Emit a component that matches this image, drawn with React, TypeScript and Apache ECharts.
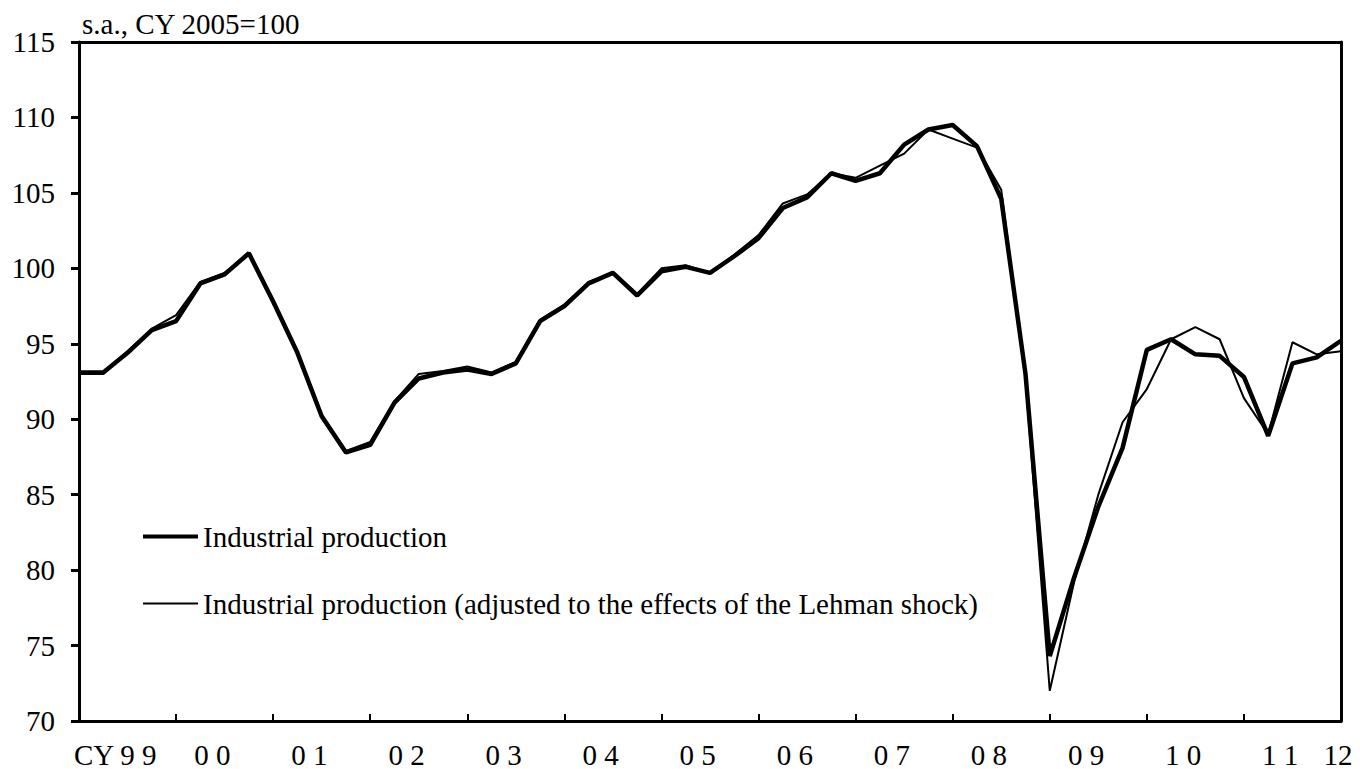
import React, { useEffect, useRef } from "react";
import * as echarts from "echarts";

const years = [1999, 2000, 2001, 2002, 2003, 2004, 2005, 2006, 2007, 2008, 2009, 2010, 2011, 2012];
const quarterNames = ["Q1", "Q2", "Q3", "Q4"];
const categories = years.flatMap((y) => quarterNames.map((q) => `${y}${q}`)).slice(0, 53);

const yearLabels = ["CY 9 9", "0 0", "0 1", "0 2", "0 3", "0 4", "0 5", "0 6", "0 7", "0 8", "0 9", "1 0", "1 1"];
const lastLabel = "12";

const seriesNames = [
  "Industrial production",
  "Industrial production (adjusted to the effects of the Lehman shock)",
];
const unitLabel = "s.a., CY 2005=100";

const industrialProduction = [
  93.1, 93.1, 94.4, 95.9, 96.5, 99.0, 99.6, 101.0, 97.8, 94.4, 90.2, 87.8, 88.3,
  91.1, 92.7, 93.1, 93.3, 93.0, 93.7, 96.5, 97.5, 99.0, 99.7, 98.2, 99.8, 100.1,
  99.7, 100.8, 102.0, 104.0, 104.7, 106.3, 105.8, 106.3, 108.2, 109.2, 109.5, 108.1,
  104.6, 93.0, 74.3, 79.5, 84.2, 88.1, 94.6, 95.3, 94.3, 94.2, 92.8, 88.9, 93.7,
  94.1, 95.2,
];

const adjustedProduction = [
  93.0, 93.0, 94.5, 96.0, 96.9, 99.1, 99.7, 101.0, 97.8, 94.5, 90.3, 87.9, 88.5,
  91.2, 93.0, 93.2, 93.5, 93.1, 93.8, 96.6, 97.6, 99.1, 99.7, 98.3, 100.0, 100.2,
  99.7, 100.9, 102.2, 104.3, 104.9, 106.3, 106.0, 106.8, 107.6, 109.2, 108.6, 108.0,
  105.2, 92.7, 72.0, 79.2, 85.0, 89.8, 92.0, 95.3, 96.1, 95.3, 91.4, 89.0, 95.1,
  94.3, 94.5,
];

const yMin = 70;
const yMax = 115;
const yStep = 5;

const FONT = "'Liberation Serif', 'Times New Roman', serif";
const FS = 29;

export default function App() {
  const ref = useRef<HTMLDivElement>(null);

  useEffect(() => {
    if (!ref.current) return;
    const chart = echarts.init(ref.current, undefined, { renderer: "svg" });
    const lastIdx = categories.length - 1;
    const textBase = { fontSize: FS, fontFamily: FONT, color: "#000" };
    const frameLine = { show: true, lineStyle: { color: "#000", width: 3 } };

    chart.setOption({
      animation: false,
      backgroundColor: "#fff",
      title: {
        text: unitLabel,
        left: 82,
        top: 9,
        padding: 0,
        textStyle: { ...textBase, fontWeight: "normal" },
      },
      grid: {
        left: 79,
        right: 19,
        top: 42,
        bottom: 45,
        show: false,
      },
      legend: [
        {
          data: [seriesNames[0]],
          left: 143,
          top: 522,
          padding: 0,
          icon: "rect",
          itemWidth: 55,
          itemHeight: 4,
          selectedMode: false,
          textStyle: textBase,
        },
        {
          data: [seriesNames[1]],
          left: 143,
          top: 589,
          padding: 0,
          icon: "rect",
          itemWidth: 55,
          itemHeight: 2,
          selectedMode: false,
          textStyle: textBase,
        },
      ],
      xAxis: [
        {
          type: "category",
          data: categories,
          boundaryGap: false,
          axisLine: frameLine,
          axisTick: {
            show: true,
            inside: true,
            length: 7,
            interval: (i: number) => i % 4 === 0,
            lineStyle: { color: "#000", width: 2 },
          },
          axisLabel: {
            show: true,
            margin: 19,
            interval: (i: number) => i % 4 === 1 || i === lastIdx,
            formatter: (_v: string, i: number) => {
              if (i === lastIdx) return `{b|${lastLabel}}`;
              if (i % 4 === 1) return `{a|${yearLabels[(i - 1) / 4]}}`;
              return "";
            },
            rich: {
              a: { ...textBase, padding: [0, 0, 0, 24] },
              b: { ...textBase, padding: [0, 6, 0, 0] },
            },
            ...textBase,
          },
          splitLine: { show: false },
        },
        {
          type: "category",
          data: categories,
          boundaryGap: false,
          position: "top",
          axisLine: frameLine,
          axisTick: { show: false },
          axisLabel: { show: false },
          splitLine: { show: false },
        },
      ],
      yAxis: [
        {
          type: "value",
          min: yMin,
          max: yMax,
          interval: yStep,
          axisLine: frameLine,
          axisTick: { show: true, inside: false, length: 8, lineStyle: { color: "#000", width: 3 } },
          axisLabel: { margin: 24, ...textBase },
          splitLine: { show: false },
        },
        {
          type: "value",
          min: yMin,
          max: yMax,
          interval: yStep,
          position: "right",
          axisLine: frameLine,
          axisTick: { show: false },
          axisLabel: { show: false },
          splitLine: { show: false },
        },
      ],
      series: [
        {
          name: seriesNames[0],
          type: "line",
          xAxisIndex: 0,
          yAxisIndex: 0,
          data: industrialProduction,
          symbol: "none",
          itemStyle: { color: "#000" },
          lineStyle: { color: "#000", width: 4.5 },
        },
        {
          name: seriesNames[1],
          type: "line",
          xAxisIndex: 0,
          yAxisIndex: 0,
          data: adjustedProduction,
          symbol: "none",
          itemStyle: { color: "#000" },
          lineStyle: { color: "#000", width: 2 },
        },
      ],
    });

    return () => chart.dispose();
  }, []);

  return (
    <div
      ref={ref}
      style={{ position: "fixed", left: 0, top: 0, width: 1360, height: 769, background: "#fff" }}
    />
  );
}
